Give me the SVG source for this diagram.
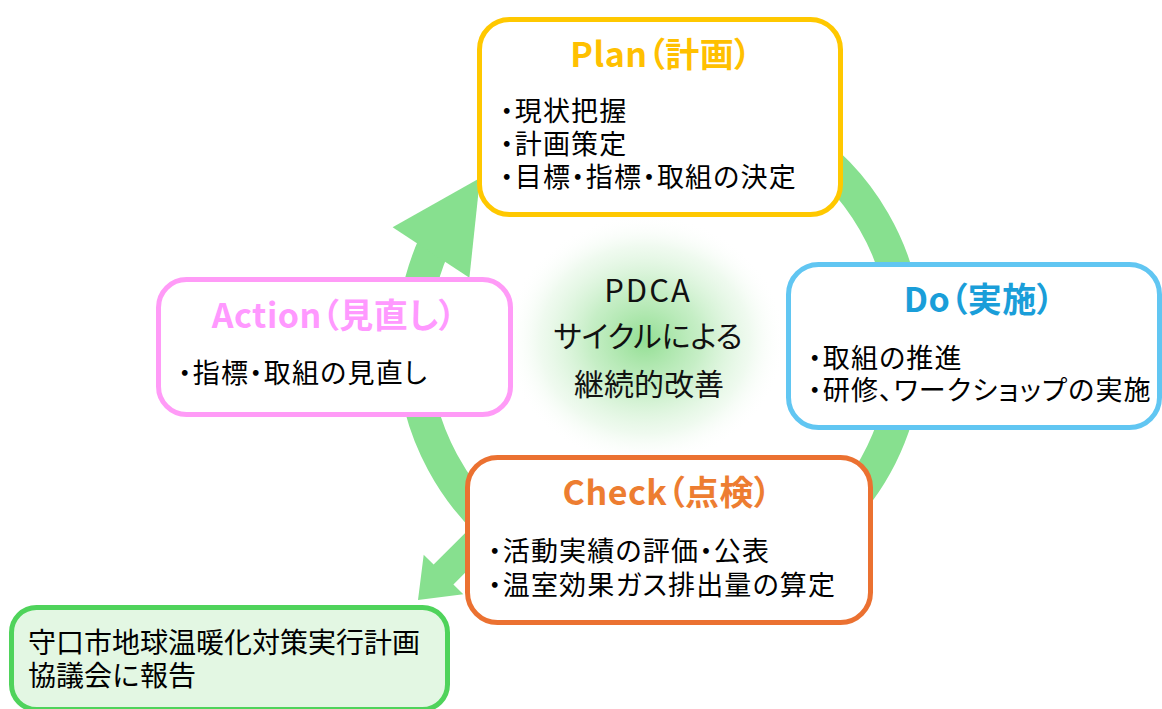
<svg xmlns="http://www.w3.org/2000/svg" width="1162" height="709" viewBox="0 0 1162 709">
<defs>
<radialGradient id="glow" cx="0.5" cy="0.5" r="0.5">
<stop offset="0" stop-color="#80d980" stop-opacity="0.85"/>
<stop offset="0.4" stop-color="#a0e3a0" stop-opacity="0.6"/>
<stop offset="0.75" stop-color="#d2f1d2" stop-opacity="0.35"/>
<stop offset="1" stop-color="#ffffff" stop-opacity="0"/>
</radialGradient>
</defs>
<style>
text{font-family:"Noto Sans CJK JP","Noto Sans",sans-serif;font-feature-settings:"palt";fill:#000}
.title{font-size:34px;font-weight:700;text-anchor:middle;letter-spacing:0.5px}
.item{font-size:27px;font-weight:400;letter-spacing:1.2px}
.center{font-size:30px;text-anchor:middle;fill:#111}
.box{fill:#fff;stroke-width:5}
.flow{fill:#87e08f}
</style>
<rect width="1162" height="709" fill="#fff"/>
<ellipse cx="645" cy="340" rx="140" ry="125" fill="url(#glow)"/>
<g id="connectors">
<path d="M 575.52 112.90 A 247 247 0 1 1 434.35 244.54" fill="none" stroke="#87e08f" stroke-width="33"/>
<polygon class="flow" points="480,178 392.6,227.2 469.4,277.8"/>
<polygon class="flow" points="418,600 423.7,554.7 433.6,564.6 476,522.2 495.8,542 453.4,584.4 463.3,594.3"/>
</g>
<g id="center-label">
<text class="center" x="648" y="302" style="font-size:31px;letter-spacing:2px">PDCA</text>
<text class="center" x="648" y="347">サイクルによる</text>
<text class="center" x="649" y="395">継続的改善</text>
</g>
<g id="plan">
<rect class="box" x="479.5" y="19.5" width="361" height="195" rx="30" stroke="#ffc800"/>
<text class="title" x="661" y="67" style="fill:#ffc000">Plan（計画）</text>
<text class="item" x="500" y="121">・現状把握</text>
<text class="item" x="500" y="154">・計画策定</text>
<text class="item" x="500" y="187">・目標・指標・取組の決定</text>
</g>
<g id="do">
<rect class="box" x="788.5" y="264.5" width="371" height="163" rx="30" stroke="#61c6f2"/>
<text class="title" x="979" y="312" style="fill:#1a9ed9">Do（実施）</text>
<text class="item" x="808" y="368">・取組の推進</text>
<text class="item" x="808" y="400">・研修、ワークショップの実施</text>
</g>
<g id="action">
<rect class="box" x="158.5" y="279.5" width="352" height="135" rx="28" stroke="#ff9bf7"/>
<text class="title" x="334" y="328" style="fill:#ff99ff">Action（見直し）</text>
<text class="item" x="178" y="383">・指標・取組の見直し</text>
</g>
<g id="check">
<rect class="box" x="467.5" y="457.5" width="403" height="165" rx="30" stroke="#eb7131"/>
<text class="title" x="667" y="505" style="fill:#ed7d31">Check（点検）</text>
<text class="item" x="488" y="561">・活動実績の評価・公表</text>
<text class="item" x="488" y="595">・温室効果ガス排出量の算定</text>
</g>
<g id="report">
<rect x="11.5" y="607.5" width="436" height="102" rx="25" fill="#e3f7e3" stroke="#4fd35b" stroke-width="5"/>
<text class="item" x="28" y="653" style="font-size:28px;letter-spacing:0;font-feature-settings:normal">守口市地球温暖化対策実行計画</text>
<text class="item" x="28" y="686" style="font-size:28px;letter-spacing:0;font-feature-settings:normal">協議会に報告</text>
</g>
</svg>
